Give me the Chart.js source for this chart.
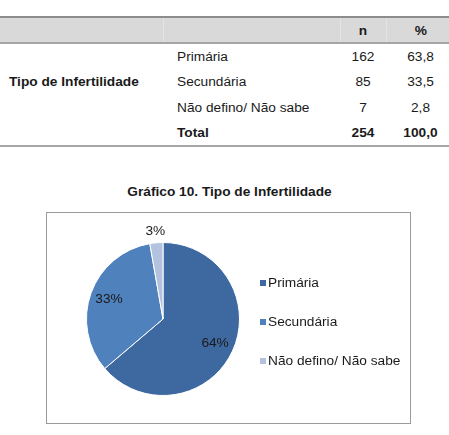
<!DOCTYPE html>
<html><head><meta charset="utf-8">
<script src="https://cdn.jsdelivr.net/npm/chart.js@4/dist/chart.umd.min.js"></script>
<style>
html,body{margin:0;padding:0;background:#fff;width:449px;height:435px;overflow:hidden;font-family:"Liberation Sans",Arial,sans-serif;color:#1a1a1a;}
#tbl{position:absolute;left:0;top:16px;width:449px;border-collapse:collapse;font-size:13.7px;}
#tbl td{padding:0;height:25.3px;}
#tbl tr.h td{background:#d9d9d9;border-top:2px solid #8c8c8c;border-bottom:2px solid #a6a6a6;font-weight:bold;height:24px;}
#tbl tr.h td + td{border-left:1px solid #e4e4e4;}
#tbl tr.last td{border-bottom:2px solid #a6a6a6;}
.c{text-align:center;}
#title{position:absolute;left:5px;width:449px;top:184px;text-align:center;font-weight:bold;font-size:13.7px;}
#box{position:absolute;left:46px;top:212px;width:363px;height:210px;border:1px solid #9a9a9a;}
#cv{position:absolute;left:47px;top:213px;}
</style></head><body>
<table id="tbl">
<colgroup><col style="width:163px"><col style="width:177px"><col style="width:46px"><col style="width:63px"></colgroup>
<tr class="h"><td></td><td></td><td class="c">n</td><td class="c" style="padding-left:6px">%</td></tr>
<tbody id="tb"></tbody>
</table>
<div id="title">Gráfico 10. Tipo de Infertilidade</div>
<div id="box"></div>
<canvas id="cv" width="363" height="210"></canvas>
<script>
const categories = ['Primária', 'Secundária', 'Não defino/ Não sabe'];
const counts = [162, 85, 7];
const percents = ['63,8', '33,5', '2,8'];
const totalLabel = 'Total';
const totalCount = 254;
const totalPercent = '100,0';
const rowHeader = 'Tipo de Infertilidade';
const colors = ['#3e69a0', '#4f81bd', '#b3c3df'];
const FONT = '"Liberation Sans", Arial, sans-serif';

// table
const tb = document.getElementById('tb');
categories.forEach((c, i) => {
  const tr = document.createElement('tr');
  if (i === 0) {
    const th = document.createElement('td');
    th.rowSpan = 3; th.textContent = rowHeader;
    th.style.fontWeight = 'bold'; th.style.paddingLeft = '9px';
    tr.appendChild(th);
  }
  tr.innerHTML += `<td style="padding-left:14px">${c}</td><td class="c">${counts[i]}</td><td class="c" style="padding-left:6px">${percents[i]}</td>`;
  tb.appendChild(tr);
});
const trt = document.createElement('tr'); trt.className = 'last';
trt.innerHTML = `<td></td><td style="padding-left:14px;font-weight:bold">${totalLabel}</td><td class="c" style="font-weight:bold">${totalCount}</td><td class="c" style="padding-left:6px;font-weight:bold">${totalPercent}</td>`;
tb.appendChild(trt);

const pctLabels = {
  id: 'pctLabels',
  afterDatasetsDraw(chart) {
    const ctx = chart.ctx;
    const data = chart.data.datasets[0].data;
    const total = data.reduce((a, b) => a + b, 0);
    chart.getDatasetMeta(0).data.forEach((arc, i) => {
      const p = arc.getProps(['x', 'y', 'startAngle', 'endAngle', 'outerRadius'], true);
      const mid = (p.startAngle + p.endAngle) / 2;
      const frac = data[i] / total;
      const r = frac < 0.05 ? p.outerRadius + 12 : p.outerRadius * 0.75;
      ctx.save();
      ctx.font = '13.7px ' + FONT;
      ctx.fillStyle = '#1a1a1a';
      ctx.textAlign = 'center'; ctx.textBaseline = 'middle';
      ctx.fillText(Math.round(frac * 100) + '%', p.x + Math.cos(mid) * r, p.y + Math.sin(mid) * r);
      ctx.restore();
    });
  }
};

const sideLegend = {
  id: 'sideLegend',
  afterDraw(chart) {
    const ctx = chart.ctx;
    const ca = chart.chartArea;
    const labels = chart.data.labels;
    const bg = chart.data.datasets[0].backgroundColor;
    const step = 39;
    const cy = (ca.top + ca.bottom) / 2 + 3;
    const x0 = ca.right + 17;
    ctx.save();
    ctx.font = '13.7px ' + FONT;
    ctx.textBaseline = 'middle';
    labels.forEach((l, i) => {
      const y = cy + (i - (labels.length - 1) / 2) * step;
      ctx.fillStyle = bg[i];
      ctx.fillRect(x0, y - 3, 6, 6);
      ctx.fillStyle = '#1a1a1a';
      ctx.fillText(l, x0 + 8, y);
    });
    ctx.restore();
  }
};

new Chart(document.getElementById('cv'), {
  type: 'pie',
  data: { labels: categories, datasets: [{ data: counts, backgroundColor: colors, borderColor: '#ffffff', borderWidth: 1 }] },
  options: {
    responsive: false, animation: false, devicePixelRatio: 1,
    layout: { padding: { left: 36, top: 29, bottom: 27, right: 167 } },
    plugins: { tooltip: { enabled: false }, legend: { display: false } }
  },
  plugins: [pctLabels, sideLegend]
});
</script>
</body></html>
